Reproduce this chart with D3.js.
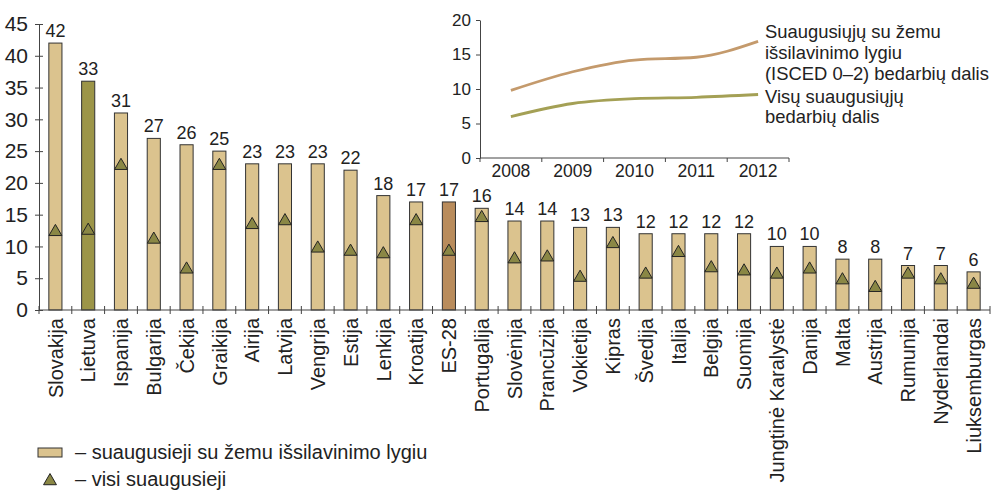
<!DOCTYPE html>
<html>
<head>
<meta charset="utf-8">
<script src="https://cdn.jsdelivr.net/npm/d3@7"></script>
<style>
  body { margin: 0; background: #fff; }
  svg { display: block; font-family: "Liberation Sans", Arial, sans-serif; }
</style>
</head>
<body>
<svg width="994" height="491"></svg>
<script>
// countries, bar heights (low education) and printed labels
const countries = ["Slovakija", "Lietuva", "Ispanija", "Bulgarija", "Čekija", "Graikija", "Airija", "Latvija",
  "Vengrija", "Estija", "Lenkija", "Kroatija", "ES-28", "Portugalija", "Slovėnija", "Prancūzija", "Vokietija",
  "Kipras", "Švedija", "Italija", "Belgija", "Suomija", "Jungtinė Karalystė", "Danija", "Malta", "Austrija",
  "Rumunija", "Nyderlandai", "Liuksemburgas"];
const lowEdu = [42, 36, 31, 27, 26, 25, 23, 23, 23, 22, 18, 17, 17, 16, 14, 14, 13, 13, 12, 12, 12, 12, 10, 10, 8, 8, 7, 7, 6];
const lowEduLabels = ["42", "33", "31", "27", "26", "25", "23", "23", "23", "22", "18", "17", "17", "16", "14", "14",
  "13", "13", "12", "12", "12", "12", "10", "10", "8", "8", "7", "7", "6"];
const allAdults = [12.3, 12.5, 22.7, 11.1, 6.4, 22.7, 13.4, 14.0, 9.7, 9.2, 8.8, 14.0, 9.2, 14.5, 8.0, 8.3, 5.1,
  10.4, 5.6, 9.0, 6.6, 6.1, 5.6, 6.4, 4.7, 3.5, 5.6, 4.7, 4.0];
const yTicks = [0, 5, 10, 15, 20, 25, 30, 35, 40, 45];

// inset: Lithuania trend
const years = ["2008", "2009", "2010", "2011", "2012"];
const ltLowEdu = [9.8, 12.5, 14.2, 14.6, 16.9];
const ltAll = [6.0, 7.9, 8.6, 8.8, 9.2];
const insetTicks = [0, 5, 10, 15, 20];

const barFill = "#dbc38e", ltFill = "#9c9548", euFill = "#b98c5c";
const triFill = "#8a8745";

const svg = d3.select("svg");

// ---- main chart
const x = d3.scaleBand().domain(countries).range([39, 990]).paddingInner(0.6).paddingOuter(0.3);
const y = d3.scaleLinear().domain([0, 45]).range([310, 24]);

const yAxis = svg.append("g")
  .attr("transform", "translate(39,0)")
  .call(d3.axisLeft(y).tickValues(yTicks).tickSize(4).tickSizeOuter(0).tickPadding(7));
yAxis.selectAll(".tick line").attr("x1", 4).attr("stroke", "#444");
yAxis.select(".domain").attr("stroke", "#444");
yAxis.selectAll(".tick text").attr("font-size", 21).attr("fill", "#222")
  .attr("font-family", "Liberation Sans, Arial, sans-serif");

const bars = svg.append("g");
bars.selectAll("rect").data(countries).join("rect")
  .attr("x", d => x(d))
  .attr("y", (d, i) => y(lowEdu[i]))
  .attr("width", x.bandwidth())
  .attr("height", (d, i) => y(0) - y(lowEdu[i]))
  .attr("fill", d => d === "Lietuva" ? ltFill : d === "ES-28" ? euFill : barFill)
  .attr("stroke", "#333").attr("stroke-width", 1);

bars.selectAll("text.val").data(countries).join("text")
  .attr("class", "val")
  .attr("x", d => x(d) + x.bandwidth() / 2)
  .attr("y", (d, i) => y(lowEdu[i]) - 6)
  .attr("text-anchor", "middle")
  .attr("font-size", 18).attr("fill", "#222")
  .text((d, i) => lowEduLabels[i]);

const tri = d3.symbol().type(d3.symbolTriangle).size(72);
bars.selectAll("path.tri").data(countries).join("path")
  .attr("class", "tri")
  .attr("d", tri)
  .attr("transform", (d, i) => `translate(${x(d) + x.bandwidth() / 2},${y(allAdults[i])})`)
  .attr("fill", triFill).attr("stroke", "#222").attr("stroke-width", 1);

// x axis with ticks on band boundaries
const xAxis = svg.append("g");
xAxis.append("line")
  .attr("x1", 39).attr("x2", x.range()[1]).attr("y1", y(0)).attr("y2", y(0))
  .attr("stroke", "#444");
xAxis.selectAll("line.tk").data(d3.range(countries.length + 1)).join("line")
  .attr("class", "tk")
  .attr("x1", i => x.range()[0] + i * x.step()).attr("x2", i => x.range()[0] + i * x.step())
  .attr("y1", y(0) - 4).attr("y2", y(0) + 4)
  .attr("stroke", "#444");
xAxis.selectAll("text").data(countries).join("text")
  .attr("transform", d => `translate(${x(d) + x.bandwidth() / 2},318) rotate(-90)`)
  .attr("dy", "0.36em")
  .attr("text-anchor", "end")
  .attr("font-size", 20).attr("fill", "#222")
  .text(d => d);

// legend
svg.append("rect").attr("x", 38).attr("y", 448).attr("width", 24).attr("height", 9)
  .attr("fill", barFill).attr("stroke", "#333");
svg.append("text").attr("x", 75).attr("y", 459).attr("font-size", 20).attr("fill", "#222")
  .text("– suaugusieji su žemu išsilavinimo lygiu");
svg.append("path").attr("d", tri).attr("transform", "translate(50,481)")
  .attr("fill", triFill).attr("stroke", "#222");
svg.append("text").attr("x", 75).attr("y", 486).attr("font-size", 20).attr("fill", "#222")
  .text("– visi suaugusieji");

// ---- inset
const ix = d3.scaleBand().domain(years).range([480, 789]);
const iy = d3.scaleLinear().domain([0, 20]).range([158, 20]);

const iyAxis = svg.append("g").attr("transform", "translate(480,0)")
  .call(d3.axisLeft(iy).tickValues(insetTicks).tickSize(4).tickSizeOuter(0).tickPadding(5));
iyAxis.selectAll("line, path").attr("stroke", "#444");
iyAxis.selectAll(".tick text").attr("font-size", 17).attr("fill", "#222")
  .attr("font-family", "Liberation Sans, Arial, sans-serif");

const ixAxis = svg.append("g");
ixAxis.append("line").attr("x1", 480).attr("x2", 789).attr("y1", iy(0)).attr("y2", iy(0)).attr("stroke", "#444");
ixAxis.selectAll("line.tk").data(d3.range(years.length + 1)).join("line")
  .attr("class", "tk")
  .attr("x1", i => 480 + i * ix.step()).attr("x2", i => 480 + i * ix.step())
  .attr("y1", iy(0)).attr("y2", iy(0) + 4).attr("stroke", "#444");
ixAxis.selectAll("text").data(years).join("text")
  .attr("x", d => ix(d) + ix.bandwidth() / 2).attr("y", 177)
  .attr("text-anchor", "middle").attr("font-size", 17.5).attr("fill", "#222")
  .text(d => d);

const line = d3.line().x((d, i) => ix(years[i]) + ix.bandwidth() / 2).y(d => iy(d)).curve(d3.curveMonotoneX);
svg.append("path").attr("d", line(ltLowEdu)).attr("fill", "none").attr("stroke", "#c49a6c").attr("stroke-width", 2.8);
svg.append("path").attr("d", line(ltAll)).attr("fill", "none").attr("stroke", "#a4a055").attr("stroke-width", 2.8);

const insetLabels = ["Suaugusiųjų su žemu", "išsilavinimo lygiu", "(ISCED 0–2) bedarbių dalis", "Visų suaugusiųjų", "bedarbių dalis"];
const insetLabelY = [38, 59, 80, 103, 123];
svg.append("g").selectAll("text").data(insetLabels).join("text")
  .attr("x", 765).attr("y", (d, i) => insetLabelY[i])
  .attr("font-size", 18.4).attr("fill", "#222")
  .text(d => d);
</script>
</body>
</html>
